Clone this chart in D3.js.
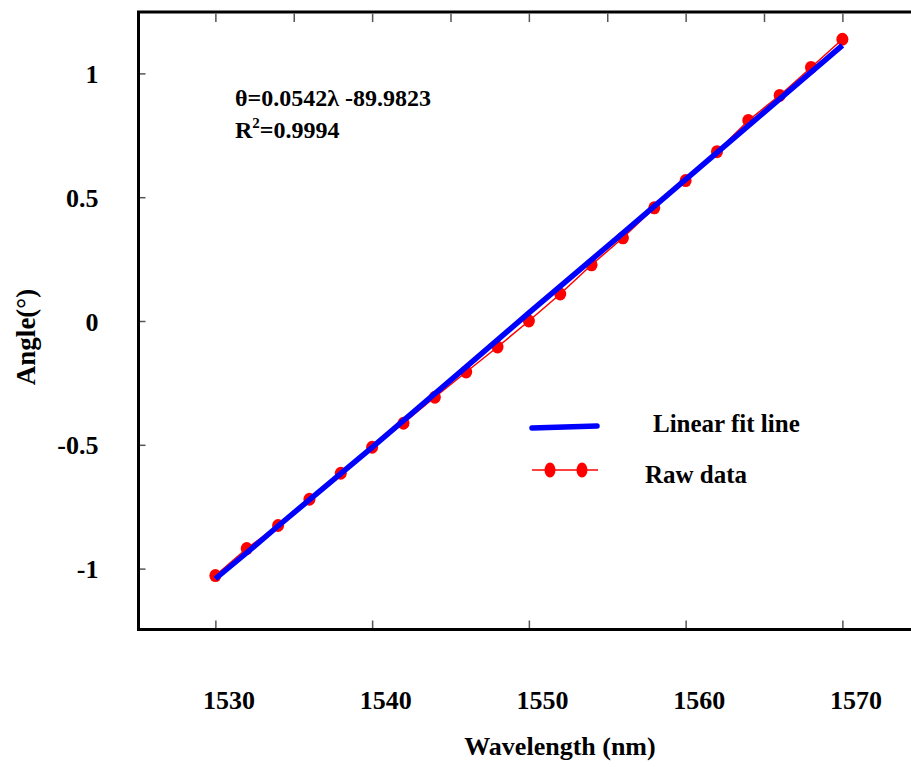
<!DOCTYPE html>
<html>
<head>
<meta charset="utf-8">
<script src="https://cdn.jsdelivr.net/npm/d3@7"></script>
<style>
  body { margin: 0; background: #fff; }
  text { font-family: "Liberation Serif", "Times New Roman", serif; font-weight: bold; fill: #000; }
</style>
</head>
<body>
<div id="chart"></div>
<script>
// raw measurements (wavelength nm, angle deg)
const rawWavelength = [1530, 1532, 1534, 1536, 1538, 1540, 1542, 1544, 1546, 1548, 1550,
                       1552, 1554, 1556, 1558, 1560, 1562, 1564, 1566, 1568, 1570];
const rawAngle = [-1.028, -0.919, -0.826, -0.72, -0.615, -0.51, -0.413, -0.308, -0.206, -0.105, 0.0,
                  0.109, 0.227, 0.336, 0.457, 0.567, 0.684, 0.81, 0.911, 1.024, 1.138];

// fitted line as drawn
const fitWavelength = [1530, 1532, 1534, 1540, 1546, 1550, 1556, 1562, 1570];
const fitAngle = [-1.041, -0.936, -0.828, -0.51, -0.185, 0.033, 0.355, 0.68, 1.113];

const xTicksMajor = [1530, 1540, 1550, 1560, 1570];
const xTicksTop = [1530, 1535, 1540, 1545, 1550, 1555, 1560, 1565, 1570];
const yTicks = [-1, -0.5, 0, 0.5, 1];

const W = 911, H = 767;
const frameLeft = 138.5, frameTop = 12, frameBottom = 629.5;

const svg = d3.select("#chart").append("svg")
  .attr("width", W)
  .attr("height", H);

const x = d3.scaleLinear().domain([1525, 1575]).range([137, 920.75]);
const y = d3.scaleLinear().domain([-1.25, 1.25]).range([630.5, 11.5]);

// frame (right side falls outside the picture)
svg.append("path")
  .attr("d", `M${W + 10},${frameTop} H${frameLeft} V${frameBottom} H${W + 10}`)
  .attr("fill", "none")
  .attr("stroke", "#000")
  .attr("stroke-width", 3);

// bottom axis: ticks inward, labels shifted like original
const xAxis = svg.append("g")
  .attr("transform", `translate(0,${frameBottom})`)
  .call(d3.axisBottom(x).tickValues(xTicksMajor).tickSize(-9).tickFormat(d => String(d)));
xAxis.select(".domain").remove();
xAxis.selectAll("line").attr("stroke", "#555").attr("stroke-width", 1.5).attr("y1", -1.5);
xAxis.selectAll("text")
  .attr("y", 79).attr("dy", null).attr("x", 13)
  .attr("font-size", 26)
  .attr("font-family", "Liberation Serif, Times New Roman, serif");

// top axis: minor ticks, no labels
const xTop = svg.append("g")
  .attr("transform", `translate(0,${frameTop})`)
  .call(d3.axisTop(x).tickValues(xTicksTop).tickSize(-10).tickFormat(""));
xTop.select(".domain").remove();
xTop.selectAll("line").attr("stroke", "#555").attr("stroke-width", 1.5).attr("y1", 1.5);

// left axis
const yAxis = svg.append("g")
  .attr("transform", `translate(${frameLeft},0)`)
  .call(d3.axisLeft(y).tickValues(yTicks).tickSize(-7).tickFormat(d => String(d)));
yAxis.select(".domain").remove();
yAxis.selectAll("line").attr("stroke", "#555").attr("stroke-width", 1.5).attr("x1", 1.5);
yAxis.selectAll("text")
  .attr("x", -40).attr("dy", "0.35em")
  .attr("font-size", 26)
  .attr("font-family", "Liberation Serif, Times New Roman, serif");

// axis titles
svg.append("text")
  .attr("x", 560).attr("y", 755)
  .attr("text-anchor", "middle")
  .attr("font-size", 26)
  .text("Wavelength (nm)");

svg.append("text")
  .attr("transform", "translate(35,337) rotate(-90)")
  .attr("text-anchor", "middle")
  .attr("font-size", 27)
  .text("Angle(°)");

// data
const raw = rawWavelength.map((w, i) => ({ w: w, a: rawAngle[i] }));
const fit = fitWavelength.map((w, i) => ({ w: w, a: fitAngle[i] }));

const line = d3.line()
  .x(d => x(d.w))
  .y(d => y(d.a));

svg.append("path")
  .attr("d", line(raw))
  .attr("fill", "none")
  .attr("stroke", "#ff0000")
  .attr("stroke-width", 1.5);

svg.selectAll("ellipse.raw")
  .data(raw)
  .enter()
  .append("ellipse")
  .attr("class", "raw")
  .attr("cx", d => x(d.w))
  .attr("cy", d => y(d.a))
  .attr("rx", 6)
  .attr("ry", 6.5)
  .attr("fill", "#ff0000");

svg.append("path")
  .attr("d", line(fit))
  .attr("fill", "none")
  .attr("stroke", "#0000ff")
  .attr("stroke-width", 5.5)
  .attr("stroke-linecap", "butt");

// equation
svg.append("text")
  .attr("x", 235).attr("y", 106)
  .attr("font-size", 24)
  .text("θ=0.0542λ -89.9823");

const r2 = svg.append("text")
  .attr("x", 235).attr("y", 138)
  .attr("font-size", 24);
r2.append("tspan").text("R");
r2.append("tspan").attr("font-size", 15).attr("dy", -10).text("2");
r2.append("tspan").attr("dy", 10).text("=0.9994");

// legend
svg.append("line")
  .attr("x1", 532).attr("y1", 428).attr("x2", 597).attr("y2", 426)
  .attr("stroke", "#0000ff").attr("stroke-width", 5.5)
  .attr("stroke-linecap", "round");
svg.append("text")
  .attr("x", 653).attr("y", 432)
  .attr("font-size", 25)
  .text("Linear fit line");

svg.append("line")
  .attr("x1", 532).attr("y1", 470).attr("x2", 598).attr("y2", 470)
  .attr("stroke", "#ff0000").attr("stroke-width", 1.5);
svg.selectAll("ellipse.leg")
  .data([550, 582])
  .enter()
  .append("ellipse")
  .attr("class", "leg")
  .attr("cx", d => d)
  .attr("cy", 470)
  .attr("rx", 5.5)
  .attr("ry", 7.5)
  .attr("fill", "#ff0000");
svg.append("text")
  .attr("x", 645).attr("y", 483)
  .attr("font-size", 25)
  .text("Raw data");
</script>
</body>
</html>
